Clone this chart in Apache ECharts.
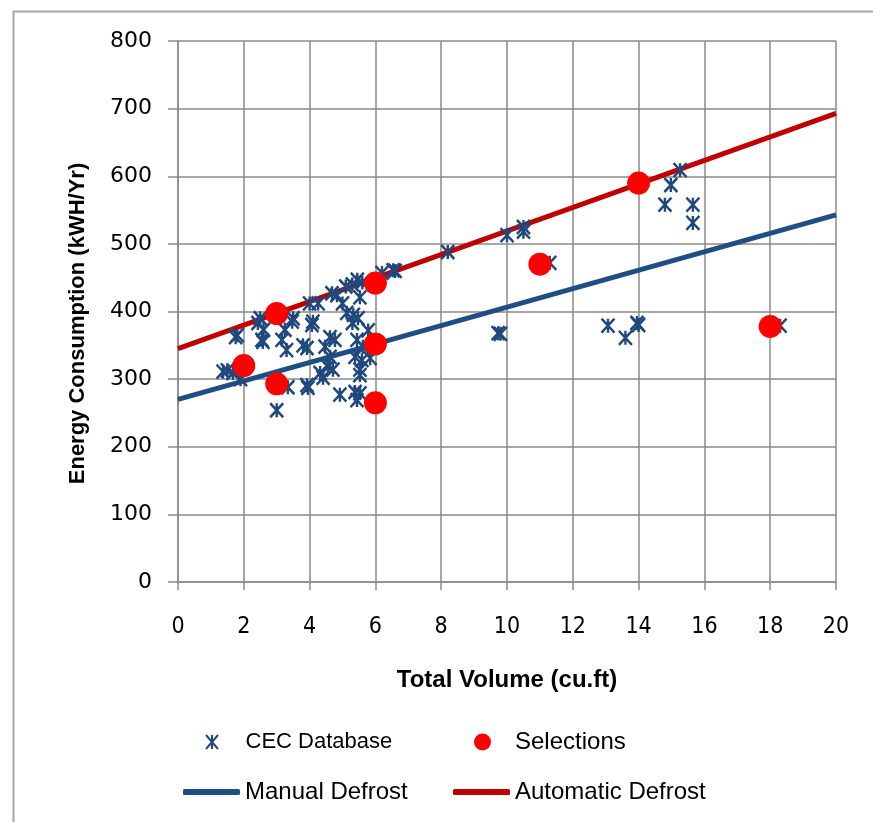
<!DOCTYPE html>
<html>
<head>
<meta charset="utf-8">
<script src="https://cdn.jsdelivr.net/npm/echarts@6/dist/echarts.min.js"></script>
<style>html,body{margin:0;padding:0;background:#fff}#c{width:873px;height:822px}</style>
</head>
<body>
<div id="c"></div>
<script>
var xTicks = [0,2,4,6,8,10,12,14,16,18,20];
var yTicks = [0,100,200,300,400,500,600,700,800];

var cecX = [1.37,1.5,1.67,1.8,1.75,1.9,2.43,2.5,2.55,2.6,2.58,3.0,3.0,3.16,3.25,3.3,3.34,3.47,3.5,3.8,3.92,3.92,3.95,4.0,4.07,4.1,4.26,4.32,4.41,4.47,4.56,4.62,4.62,4.68,4.71,4.77,4.83,4.92,5.0,5.13,5.1,5.3,5.33,5.3,5.38,5.38,5.44,5.44,5.45,5.47,5.53,5.53,5.53,5.53,5.59,5.62,5.6,5.78,5.84,6.2,6.54,6.6,8.2,9.73,9.8,10.0,10.5,10.5,11.3,13.07,13.6,13.95,14.0,14.8,14.98,15.26,15.65,15.65,18.3];
var cecY = [311,313,309,365,362,300,383,390,358,373,355,254,291,358,373,343,288,385,390,350,346,291,287,412,380,385,412,309,302,348,318,362,333,427,314,358,424,277,412,398,437,440,395,383,333,281,269,358,447,390,421,314,306,279,328,348,443,372,331,457,461,460,488,368,367,513,518,525,472,379,361,383,380,558,587,609,558,531,379];

var selX = [2,3,3,6,6,6,11,14,18];
var selY = [320,397,293,442,352,265,470,590,378];

var manualX = [0,20];
var manualY = [270,543];
var autoX = [0,20];
var autoY = [345,693];

function pairs(xs, ys){ return xs.map(function(x,i){return [x, ys[i]];}); }

var FONT = 'Liberation Sans';
var starPath = 'path://M0,0L12,14M12,0L0,14M6,0L6,14';
var GRID = '#8a8a8a';

var chart = echarts.init(document.getElementById('c'), null, {renderer:'canvas'});
chart.setOption({
  animation:false,
  backgroundColor:'#ffffff',
  textStyle:{fontFamily:FONT},
  graphic:[{type:'rect', left:11, top:9, shape:{width:900,height:900}, style:{fill:'none', stroke:'#a6a6a6', lineWidth:2}, silent:true}],
  grid:{left:178, right:37, top:41, bottom:240, containLabel:false},
  xAxis:{
    type:'value', min:0, max:20, interval:2,
    name:'Total Volume (cu.ft)', nameLocation:'middle', nameGap:86,
    nameTextStyle:{fontFamily:FONT, fontSize:24, fontWeight:'bold', color:'#000'},
    axisLine:{show:true, onZero:false, lineStyle:{color:GRID, width:1.5}},
    axisTick:{show:true, length:8, lineStyle:{color:GRID, width:1.5}},
    axisLabel:{fontFamily:'"Liberation Sans Narrow", "DejaVu Sans Condensed", "Liberation Sans"', fontSize:23, color:'#000', margin:34},
    splitLine:{show:true, lineStyle:{color:GRID, width:1.5}}
  },
  yAxis:{
    type:'value', min:0, max:800, interval:100,
    name:'Energy Consumption (kWH/Yr)', nameLocation:'middle', nameGap:89,
    nameTextStyle:{fontFamily:FONT, fontSize:22, fontWeight:'bold', color:'#000', padding:[0,24,0,0]},
    axisLine:{show:true, lineStyle:{color:GRID, width:1.5}},
    axisTick:{show:true, length:10, lineStyle:{color:GRID, width:1.5}},
    axisLabel:{fontFamily:'DejaVu Sans', fontSize:22, color:'#000', margin:26},
    splitLine:{show:true, lineStyle:{color:GRID, width:1.5}}
  },
  legend:[
    {data:['CEC Database'], left:205, top:731, padding:0, itemWidth:13, itemHeight:14, selectedMode:false,
     itemStyle:{opacity:1},
     textStyle:{fontFamily:FONT, fontSize:22, color:'#000', padding:[0,0,0,22]}},
    {data:['Selections'], left:474, top:730, padding:0, itemWidth:17, itemHeight:17, icon:'circle', selectedMode:false,
     itemStyle:{opacity:1},
     textStyle:{fontFamily:FONT, fontSize:24, color:'#000', padding:[0,0,0,19]}},
    {data:['Manual Defrost'], left:183, top:780, padding:0, itemWidth:57, itemHeight:6, icon:'roundRect', selectedMode:false,
     textStyle:{fontFamily:FONT, fontSize:24, color:'#000'}},
    {data:['Automatic Defrost'], left:453, top:780, padding:0, itemWidth:57, itemHeight:6, icon:'roundRect', selectedMode:false,
     textStyle:{fontFamily:FONT, fontSize:24, color:'#000'}}
  ],
  series:[
    {name:'Manual Defrost', type:'line', data:pairs(manualX, manualY), symbol:'none', z:2,
     lineStyle:{color:'#1f4e85', width:5}, itemStyle:{color:'#1f4e85'}},
    {name:'Automatic Defrost', type:'line', data:pairs(autoX, autoY), symbol:'none', z:2,
     lineStyle:{color:'#c00000', width:5}, itemStyle:{color:'#c00000'}},
    {name:'CEC Database', type:'scatter', data:pairs(cecX, cecY), symbol:starPath, symbolSize:[13,14], z:3,
     itemStyle:{color:'rgba(0,0,0,0)', borderColor:'#1f497d', borderWidth:2.5, opacity:1}},
    {name:'Selections', type:'scatter', data:pairs(selX, selY), symbol:'circle', symbolSize:23, z:4,
     itemStyle:{color:'#ff0000', opacity:1}}
  ]
});
</script>
</body>
</html>
